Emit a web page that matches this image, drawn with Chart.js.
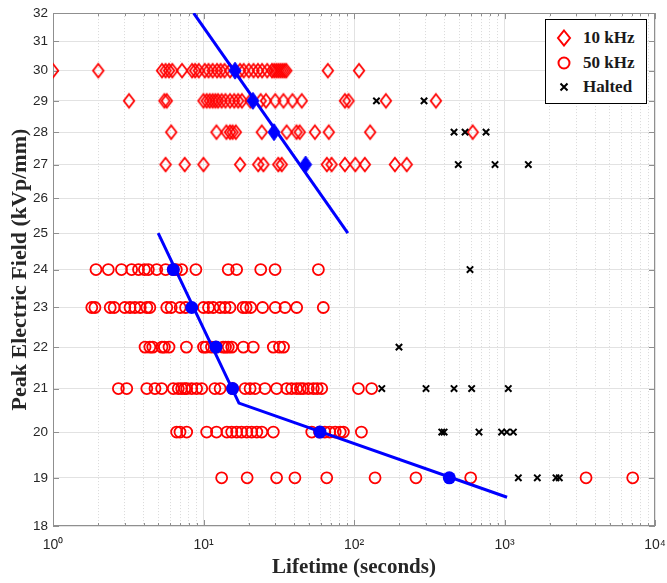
<!DOCTYPE html>
<html>
<head>
<meta charset="utf-8">
<script src="https://cdn.jsdelivr.net/npm/chart.js@4.4.0/dist/chart.umd.min.js"></script>
<style>
body { margin: 0; background: #fff; }
#wrap { position: relative; width: 667px; height: 583px; }
#legend {
    position: absolute; left: 545px; top: 19px; width: 100px; height: 83px;
    border: 1.5px solid #000; background: #fff;
    font: bold 17px 'Liberation Serif', serif; color: #1a1a1a;
}
#legend div { position: absolute; left: 0; height: 20px; line-height: 20px; }
#legend svg { position: absolute; left: 9px; top: 1px; }
#legend span { position: absolute; left: 37px; white-space: nowrap; }
</style>
</head>
<body>
<div id="wrap">
    <canvas id="chart" width="667" height="583"></canvas>
    <div id="legend">
        <div style="top:8px"><svg width="18" height="18"><polygon points="9,1.5 15,9 9,16.5 3,9" fill="none" stroke="#f00" stroke-width="2"/></svg><span>10 kHz</span></div>
        <div style="top:33px"><svg width="18" height="18"><circle cx="9" cy="9" r="5.5" fill="none" stroke="#f00" stroke-width="2"/></svg><span>50 kHz</span></div>
        <div style="top:57px"><svg width="18" height="18"><path d="M5.5,5.5 L12.5,12.5 M12.5,5.5 L5.5,12.5" stroke="#000" stroke-width="2"/></svg><span>Halted</span></div>
    </div>
</div>
<script>
// lifetimes (s), one array per field level
const khz10_30 = [1.0, 2.0, 5.3, 5.6, 5.9, 6.2, 7.2, 8.4, 8.8, 9.3, 10.2, 10.8, 11.5, 12.3, 13.0, 13.8, 15.0, 17.5, 18.5, 20.0, 21.5, 23.0, 24.5, 26.5, 28.5, 29.5, 30.5, 31.5, 32.5, 33.5, 34.5, 35.5, 67, 108];
const khz10_29 = [3.2, 5.5, 5.7, 10.0, 10.5, 11.0, 11.5, 12.0, 12.5, 13.2, 14.0, 15.0, 16.0, 17.0, 18.0, 20.5, 24, 26, 30, 34, 39, 45, 87, 92, 163, 350];
const khz10_28 = [6.1, 12.2, 14.2, 15.0, 15.6, 16.4, 24.4, 35.7, 41.5, 43.6, 55, 68, 128, 615];
const khz10_27 = [5.6, 7.5, 10.0, 17.5, 23.1, 25.0, 31.4, 33.1, 66, 71, 87, 102, 118, 187, 224];

const khz50_24 = [1.93, 2.33, 2.85, 3.33, 3.7, 4.05, 4.3, 4.89, 5.6, 6.3, 6.6, 7.16, 8.9, 14.6, 16.6, 24, 29.9, 58];
const khz50_23 = [1.81, 1.9, 2.4, 2.55, 3.0, 3.25, 3.5, 3.8, 4.2, 4.4, 5.7, 6.1, 7.0, 7.6, 10.0, 10.8, 11.6, 12.9, 13.9, 15.0, 18.3, 19.2, 20.6, 24.7, 30, 34.8, 41.6, 62.5];
const khz50_22 = [4.09, 4.4, 4.6, 5.3, 5.5, 5.9, 7.7, 10.0, 10.4, 11.3, 12.1, 13.5, 14.0, 14.6, 15.4, 18.4, 21.4, 29.1, 32, 34];
const khz50_21 = [2.72, 3.09, 4.2, 4.76, 5.27, 6.3, 6.8, 7.16, 7.5, 7.73, 8.35, 9.0, 9.73, 11.9, 12.9, 15.6, 18.9, 20.4, 22, 25.6, 30.6, 35.7, 38.5, 41.6, 44, 46, 49.7, 53.7, 57, 61, 107, 131];
const khz50_20 = [6.63, 6.98, 7.73, 10.5, 12.2, 14.3, 15.4, 16.6, 17.9, 19.4, 20.9, 22.6, 24.4, 29.1, 52.4, 59, 64, 69, 75, 81, 85, 112];
const khz50_19 = [13.2, 19.5, 30.6, 40.5, 65.9, 138, 258, 596, 3483, 7110];

const haltedLife  = [141, 292, 462, 547, 754, 493, 865, 1440, 590, 199, 153, 301, 462, 605, 1060, 383, 397, 677, 957, 1035, 1145, 1236, 1652, 2198, 2313];
const haltedField = [29, 29, 28, 28, 28, 27, 27, 27, 24, 22, 21, 21, 21, 21, 21, 20, 20, 20, 20, 20, 20, 19, 19, 19, 19];

const mean10kLife  = [16.2, 21.3, 29.4, 47.7];
const mean10kField = [30, 29, 28, 27];
const mean50kLife  = [6.3, 8.35, 12.1, 15.6, 59.4, 430];
const mean50kField = [24, 23, 22, 21, 20, 19];

const fit10kLife  = [8.6, 91];
const fit10kField = [32, 25];
const fit50kLife  = [5.0, 17.2, 1040];
const fit50kField = [25, 20.66, 18.59];

const xDecades = [1, 10, 100, 1000, 10000];
const yTicks = [18, 19, 20, 21, 22, 23, 24, 25, 26, 27, 28, 29, 30, 31, 32];

// minor ticks 2..9 inside each decade
let xTickValues = [];
xDecades.forEach(d => {
    xTickValues.push(d);
    if (d < 10000) {
        for (let m = 2; m <= 9; m++) xTickValues.push(m * d);
    }
});

function rows(levels, arrays) {
    let pts = [];
    arrays.forEach((arr, i) => arr.forEach(v => pts.push({ x: v, y: levels[i] })));
    return pts;
}
function pairs(xs, ys) {
    return xs.map((v, i) => ({ x: v, y: ys[i] }));
}

function diamond(w, h, lw, stroke, fill) {
    const c = document.createElement('canvas');
    c.width = w + lw * 2 + 2;
    c.height = h + lw * 2 + 2;
    const g = c.getContext('2d');
    const cx = c.width / 2, cy = c.height / 2;
    g.beginPath();
    g.moveTo(cx, cy - h / 2);
    g.lineTo(cx + w / 2, cy);
    g.lineTo(cx, cy + h / 2);
    g.lineTo(cx - w / 2, cy);
    g.closePath();
    if (fill) { g.fillStyle = fill; g.fill(); }
    if (stroke) { g.strokeStyle = stroke; g.lineWidth = lw; g.stroke(); }
    return c;
}

const supers = { '0': '\u2070', '1': '\u00b9', '2': '\u00b2', '3': '\u00b3', '4': '\u2074' };

// box and inward tick marks like the original figure
const frame = {
    id: 'frame',
    beforeDatasetsDraw(chart) {
        const { ctx, chartArea: a, scales } = chart;
        ctx.save();
        ctx.strokeStyle = '#8f8f8f';
        ctx.lineWidth = 1;
        ctx.beginPath();
        scales.x.ticks.forEach(t => {
            const px = Math.round(scales.x.getPixelForValue(t.value)) + 0.5;
            const len = t.major ? 6 : 3;
            ctx.moveTo(px, a.bottom); ctx.lineTo(px, a.bottom - len);
            ctx.moveTo(px, a.top); ctx.lineTo(px, a.top + len);
        });
        scales.y.ticks.forEach(t => {
            const py = Math.round(scales.y.getPixelForValue(t.value)) + 0.5;
            ctx.moveTo(a.left, py); ctx.lineTo(a.left + 6, py);
            ctx.moveTo(a.right, py); ctx.lineTo(a.right - 6, py);
        });
        ctx.stroke();
        ctx.strokeRect(Math.round(a.left) + 0.5, Math.round(a.top) + 0.5,
            Math.round(a.right - a.left) - 1, Math.round(a.bottom - a.top) - 1);
        ctx.restore();
    }
};

const ctx = document.getElementById('chart');
new Chart(ctx, {
    type: 'scatter',
    data: {
        datasets: [
            {
                label: '10 kHz mean',
                data: pairs(mean10kLife, mean10kField),
                pointStyle: diamond(12, 17, 1, '#0000ff', '#0000ff'),
                pointRadius: 8
            },
            {
                label: '50 kHz mean',
                data: pairs(mean50kLife, mean50kField),
                pointStyle: 'circle',
                pointRadius: 6.5,
                backgroundColor: '#0000ff',
                borderColor: '#0000ff',
                borderWidth: 0
            },
            {
                label: '10 kHz fit',
                data: pairs(fit10kLife, fit10kField),
                showLine: true,
                pointRadius: 0,
                borderColor: '#0000ff',
                borderWidth: 3
            },
            {
                label: '50 kHz fit',
                data: pairs(fit50kLife, fit50kField),
                showLine: true,
                pointRadius: 0,
                borderColor: '#0000ff',
                borderWidth: 3
            },
            {
                label: 'Halted',
                data: pairs(haltedLife, haltedField),
                pointStyle: 'crossRot',
                pointRadius: 4.5,
                borderColor: '#000',
                borderWidth: 2
            },
            {
                label: '50 kHz',
                data: rows([24, 23, 22, 21, 20, 19], [khz50_24, khz50_23, khz50_22, khz50_21, khz50_20, khz50_19]),
                pointStyle: 'circle',
                pointRadius: 5.5,
                backgroundColor: 'rgba(0,0,0,0)',
                borderColor: '#ff0000',
                borderWidth: 1.8
            },
            {
                label: '10 kHz',
                data: rows([30, 29, 28, 27], [khz10_30, khz10_29, khz10_28, khz10_27]),
                pointStyle: diamond(10.5, 13.5, 1.8, '#ff0000', null),
                pointRadius: 7
            }
        ]
    },
    options: {
        responsive: false,
        animation: false,
        layout: { padding: { top: 12, right: 12, left: 0, bottom: 0 } },
        plugins: {
            legend: { display: false },
            tooltip: { enabled: false }
        },
        scales: {
            x: {
                type: 'logarithmic',
                min: 1,
                max: 10000,
                afterBuildTicks: scale => {
                    scale.ticks = xTickValues.map(v => ({ value: v, major: xDecades.includes(v) }));
                },
                afterFit: scale => {
                    scale.height = 57;
                    // let the outer labels hang over the edges instead of shrinking the plot
                    scale.paddingLeft = 0;
                    scale.paddingRight = 0;
                },
                ticks: {
                    autoSkip: false,
                    maxRotation: 0,
                    padding: 11,
                    color: '#262626',
                    font: { family: 'Liberation Sans', size: 14 },
                    callback: function (value) {
                        if (!xDecades.includes(value)) return '';
                        const e = String(Math.round(Math.log10(value)));
                        return '10' + e.split('').map(c => supers[c]).join('');
                    }
                },
                grid: {
                    drawTicks: false,
                    color: c => (c.tick && c.tick.major) ? '#e2e2e2' : '#d9d9d9'
                },
                border: {
                    display: false,
                    dash: c => (c.tick && c.tick.major) ? [] : [1, 2]
                },
                title: {
                    display: true,
                    text: 'Lifetime (seconds)',
                    color: '#262626',
                    font: { family: 'Liberation Serif', size: 21, weight: 'bold' },
                    padding: { top: 0, bottom: 3 }
                }
            },
            y: {
                type: 'logarithmic',
                min: 18,
                max: 32,
                afterBuildTicks: scale => {
                    scale.ticks = yTicks.map(v => ({ value: v, major: true }));
                },
                afterFit: scale => { scale.width = 53; },
                ticks: {
                    padding: 5,
                    color: '#262626',
                    font: { family: 'Liberation Sans', size: 13.5 },
                    callback: value => String(value)
                },
                grid: {
                    drawTicks: false,
                    color: '#e2e2e2'
                },
                border: { display: false },
                title: {
                    display: true,
                    text: 'Peak Electric Field (kVp/mm)',
                    color: '#262626',
                    font: { family: 'Liberation Serif', size: 22, weight: 'bold' },
                    padding: { top: 7, bottom: 0 }
                }
            }
        }
    },
    plugins: [frame]
});
</script>
</body>
</html>
